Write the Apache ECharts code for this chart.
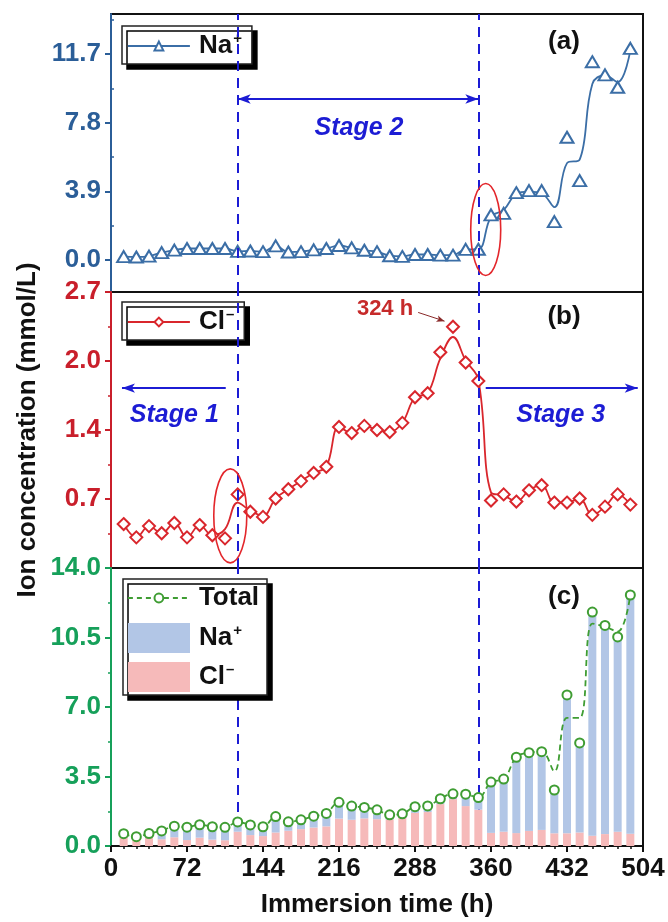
<!DOCTYPE html>
<html>
<head>
<meta charset="utf-8">
<script src="https://cdn.jsdelivr.net/npm/echarts@6/dist/echarts.min.js"></script>
<style>
  html, body { margin: 0; padding: 0; background: #fff; }
  #chart { width: 668px; height: 922px; }
</style>
</head>
<body>
<div id="chart"></div>
<script>
// Sampling times (h)
const hours = [12, 24, 36, 48, 60, 72, 84, 96, 108, 120, 132, 144, 156, 168, 180, 192, 204, 216, 228, 240,
  252, 264, 276, 288, 300, 312, 324, 336, 348, 360, 372, 384, 396, 408, 420, 432, 444, 456, 468, 480, 492];

// Na+ concentration (mmol/L): measured points and fitted curve
const naValues = [0.19, 0.17, 0.22, 0.42, 0.56, 0.65, 0.65, 0.65, 0.65, 0.49, 0.51, 0.47, 0.80, 0.45, 0.47, 0.57, 0.65, 0.82, 0.69, 0.55,
  0.47, 0.24, 0.20, 0.31, 0.31, 0.27, 0.27, 0.60, 0.61, 2.56, 2.65, 3.82, 3.94, 3.94, 2.18, 6.97, 4.51, 11.26, 10.51, 9.81, 12.02];
const naCurve = [0.19, 0.17, 0.22, 0.42, 0.56, 0.65, 0.65, 0.65, 0.65, 0.49, 0.51, 0.47, 0.80, 0.45, 0.47, 0.57, 0.65, 0.82, 0.69, 0.55,
  0.47, 0.24, 0.20, 0.31, 0.31, 0.27, 0.27, 0.60, 0.61, 2.46, 2.84, 3.75, 3.88, 3.79, 3.00, 5.50, 5.70, 10.00, 10.50, 10.10, 11.90];

// Cl- concentration (mmol/L): measured points and fitted curve
const clValues = [0.43, 0.30, 0.41, 0.34, 0.44, 0.30, 0.42, 0.32, 0.29, 0.72, 0.55, 0.50, 0.68, 0.77, 0.85, 0.93, 0.99, 1.38, 1.32, 1.39,
  1.35, 1.33, 1.42, 1.67, 1.71, 2.11, 2.36, 2.01, 1.83, 0.66, 0.72, 0.65, 0.76, 0.81, 0.64, 0.64, 0.68, 0.52, 0.60, 0.72, 0.62];
const clCurve = [0.43, 0.30, 0.41, 0.34, 0.44, 0.30, 0.42, 0.32, 0.38, 0.64, 0.56, 0.51, 0.68, 0.77, 0.85, 0.93, 0.99, 1.38, 1.32, 1.39,
  1.35, 1.33, 1.42, 1.67, 1.71, 2.05, 2.26, 2.03, 1.84, 0.74, 0.71, 0.65, 0.76, 0.81, 0.64, 0.64, 0.68, 0.52, 0.60, 0.72, 0.62];

// Total ion concentration (mmol/L): points and fitted curve
const totalValues = [0.62, 0.47, 0.63, 0.76, 1.00, 0.95, 1.07, 0.97, 0.94, 1.21, 1.06, 0.97, 1.48, 1.22, 1.32, 1.50, 1.64, 2.20, 2.01, 1.94,
  1.82, 1.57, 1.62, 1.98, 2.02, 2.38, 2.63, 2.61, 2.44, 3.22, 3.37, 4.47, 4.70, 4.75, 2.82, 7.61, 5.19, 11.78, 11.11, 10.53, 12.64];
const totalCurve = [0.62, 0.47, 0.63, 0.76, 1.00, 0.95, 1.07, 0.97, 0.94, 1.21, 1.06, 0.97, 1.48, 1.22, 1.32, 1.50, 1.64, 2.20, 2.01, 1.94,
  1.82, 1.57, 1.62, 1.98, 2.02, 2.38, 2.63, 2.61, 2.44, 3.22, 3.37, 4.47, 4.70, 4.75, 3.75, 6.45, 6.45, 11.20, 11.04, 10.80, 12.64];

// Axis ticks
const xTicks = { min: 0, max: 504, step: 72 };
const naTickLabels = [0, 3.9, 7.8, 11.7];
const naMinorTicks = [1.95, 5.85, 9.75, 13.65];
const stageBounds = [120, 348];

const FONT = '"Liberation Sans", Arial, Helvetica, sans-serif';
const NA = '#3b6ea6', NA_AXIS = '#2b5e98';
const CL = '#d9262c', CL_AXIS = '#c91f2b';
const TOT = '#3f9d33', TOT_AXIS = '#16a05a';
const STAGE = '#1c1cd4';
const NA_BAR = '#b2c6e6', CL_BAR = '#f6baba';

const pairs = (xs, ys) => xs.map((x, i) => [x, ys[i]]);
// value first, time second: lets the bar stack run along the concentration axis
const valueFirst = (xs, ys) => xs.map((x, i) => [ys[i], x]);
const bold = (size, color) => ({ fontFamily: FONT, fontSize: size, fontWeight: 'bold', color: color || '#111' });

const legendRich = {
  t: { fontFamily: FONT, fontSize: 26, fontWeight: 'bold', color: '#111', lineHeight: 30, verticalAlign: 'middle' },
  s: { fontFamily: FONT, fontSize: 15, fontWeight: 'bold', color: '#111', lineHeight: 30, verticalAlign: 'top', padding: [0, 0, 0, 1] }
};
const legendLabel = name => {
  if (name.indexOf('Na') === 0) return '{t|Na}{s|+}';
  if (name.indexOf('Cl') === 0) return '{t|Cl}{s|\u2013}';
  return '{t|' + name + '}';
};

const stageLines = stageBounds.map(v => ({ xAxis: v }));
const dashedStage = { color: STAGE, width: 2, type: [10, 7] };
const arrowSeg = (x0, x1, y, s0, s1) => [
  { coord: [x0, y], symbol: s0, lineStyle: { type: 'solid', width: 2, color: STAGE } },
  { coord: [x1, y], symbol: s1, lineStyle: { type: 'solid', width: 2, color: STAGE } }
];

const grids = [
  { left: 111, right: 25, top: 14, height: 278 },
  { left: 111, right: 25, top: 292, height: 276 },
  { left: 111, right: 25, top: 568, height: 278 }
].map(g => Object.assign(g, { show: true, borderColor: '#111', borderWidth: 2, backgroundColor: 'transparent' }));

const xAxes = [0, 1, 2].map(i => ({
  type: 'value', gridIndex: i, min: xTicks.min, max: xTicks.max, interval: xTicks.step,
  axisLine: { show: i === 2, onZero: false, lineStyle: { color: '#111', width: 2 } },
  axisTick: { show: i === 2, length: 6, lineStyle: { color: '#111', width: 2 } },
  minorTick: { show: i === 2, splitNumber: 6, length: 3, lineStyle: { color: '#111', width: 1.5 } },
  axisLabel: Object.assign({ show: i === 2, margin: 10 }, bold(26)),
  splitLine: { show: false },
  name: i === 2 ? 'Immersion time (h)' : '',
  nameLocation: 'middle', nameGap: 46,
  nameTextStyle: bold(26)
}));

const yAxes = [
  {
    type: 'value', gridIndex: 0, min: -1.82, max: 13.97,
    axisLine: { show: true, onZero: false, lineStyle: { color: NA_AXIS, width: 2 } },
    axisTick: { show: true, customValues: naTickLabels, length: 6, lineStyle: { color: NA_AXIS, width: 2 } },
    axisLabel: Object.assign({ customValues: naTickLabels, formatter: v => v.toFixed(1), margin: 10 }, bold(26, NA_AXIS)),
    splitLine: { show: false }
  },
  {
    type: 'value', gridIndex: 0, min: -1.82, max: 13.97,
    axisLine: { show: false },
    axisTick: { show: true, customValues: naMinorTicks, length: 3, lineStyle: { color: NA_AXIS, width: 1.5 } },
    axisLabel: { show: false },
    splitLine: { show: false }
  },
  {
    type: 'value', gridIndex: 1, min: 0, max: 2.7, interval: 0.675,
    axisLine: { show: true, onZero: false, lineStyle: { color: CL_AXIS, width: 2 } },
    axisTick: { show: true, length: 6, lineStyle: { color: CL_AXIS, width: 2 } },
    minorTick: { show: true, splitNumber: 2, length: 3, lineStyle: { color: CL_AXIS, width: 1.5 } },
    axisLabel: Object.assign({ formatter: v => v.toFixed(1), showMinLabel: false, margin: 10 }, bold(26, CL_AXIS)),
    splitLine: { show: false },
    name: 'Ion concentration (mmol/L)', nameLocation: 'middle', nameGap: 70,
    nameTextStyle: bold(26)
  },
  {
    type: 'value', gridIndex: 2, min: 0, max: 14, interval: 3.5,
    axisLine: { show: true, onZero: false, lineStyle: { color: TOT_AXIS, width: 2 } },
    axisTick: { show: true, length: 6, lineStyle: { color: TOT_AXIS, width: 2 } },
    minorTick: { show: true, splitNumber: 2, length: 3, lineStyle: { color: TOT_AXIS, width: 1.5 } },
    axisLabel: Object.assign({ formatter: v => v.toFixed(1), margin: 10 }, bold(26, TOT_AXIS)),
    splitLine: { show: false }
  }
];

const series = [
  // (a) Na+
  {
    name: 'Na+ fit', type: 'line', xAxisIndex: 0, yAxisIndex: 0, data: pairs(hours, naCurve),
    smooth: 0.4, showSymbol: false, silent: true, z: 3,
    lineStyle: { color: NA, width: 1.8 },
    markLine: {
      silent: true, symbol: ['none', 'none'], symbolSize: [7, 13], label: { show: false },
      lineStyle: dashedStage,
      data: stageLines.concat([arrowSeg(stageBounds[0], stageBounds[1], 9.14, 'arrow', 'arrow')])
    }
  },
  {
    name: 'Na+', type: 'line', xAxisIndex: 0, yAxisIndex: 0, data: pairs(hours, naValues),
    symbol: 'emptyTriangle', symbolSize: [13, 11], z: 4, silent: true,
    itemStyle: { color: NA, borderWidth: 1.5 },
    lineStyle: { opacity: 0 }
  },
  // (b) Cl-
  {
    name: 'Cl- fit', type: 'line', xAxisIndex: 1, yAxisIndex: 2, data: pairs(hours, clCurve),
    smooth: 0.4, showSymbol: false, silent: true, z: 3,
    lineStyle: { color: CL, width: 1.8 },
    markLine: {
      silent: true, symbol: ['none', 'none'], symbolSize: [7, 13], label: { show: false },
      lineStyle: dashedStage,
      data: stageLines.concat([
        arrowSeg(108.7, 10.4, 1.76, 'none', 'arrow'),
        arrowSeg(355, 499, 1.76, 'none', 'arrow'),
        [
          { coord: [291, 2.50], symbol: 'none', symbolSize: [5, 8], lineStyle: { type: 'solid', width: 1, color: '#8a2a2a' } },
          { coord: [316, 2.415], symbol: 'arrow', symbolSize: [5, 8], lineStyle: { type: 'solid', width: 1, color: '#8a2a2a' } }
        ]
      ])
    }
  },
  {
    name: 'Cl-', type: 'line', xAxisIndex: 1, yAxisIndex: 2, data: pairs(hours, clValues),
    symbol: 'emptyDiamond', symbolSize: [12, 12], z: 4, silent: true,
    itemStyle: { color: CL, borderWidth: 1.5 },
    lineStyle: { opacity: 0 }
  },
  // (c) stacked ions (Cl- at the bottom, Na+ on top) and total
  {
    name: 'Cl- bar', type: 'bar', xAxisIndex: 2, yAxisIndex: 3, stack: 'ions',
    data: valueFirst(hours, clValues), encode: { x: 1, y: 0 },
    barWidth: 8, silent: true, itemStyle: { color: CL_BAR },
    markLine: {
      silent: true, z: 1, symbol: ['none', 'none'], label: { show: false },
      lineStyle: dashedStage, data: stageLines
    }
  },
  {
    name: 'Na+ bar', type: 'bar', xAxisIndex: 2, yAxisIndex: 3, stack: 'ions',
    data: valueFirst(hours, naValues), encode: { x: 1, y: 0 },
    barWidth: 8, silent: true, itemStyle: { color: NA_BAR }
  },
  {
    name: 'Total fit', type: 'line', xAxisIndex: 2, yAxisIndex: 3, data: pairs(hours, totalCurve),
    smooth: 0.4, showSymbol: false, silent: true, z: 3,
    lineStyle: { color: TOT, width: 1.8, type: [6, 4] }
  },
  {
    name: 'Total', type: 'line', xAxisIndex: 2, yAxisIndex: 3, data: pairs(hours, totalValues),
    symbol: 'emptyCircle', symbolSize: 9, z: 4, silent: true,
    itemStyle: { color: TOT, borderWidth: 2 },
    lineStyle: { opacity: 0 }
  }
];

const boxedLegend = {
  backgroundColor: '#fff', borderColor: '#222', borderWidth: 1.5,
  shadowColor: '#000', shadowOffsetX: 5, shadowOffsetY: 5, shadowBlur: 0
};

const legends = [
  Object.assign({
    data: ['Na+'], left: 122, top: 26, itemWidth: 62, itemHeight: 11, padding: [5, 10, 5, 5],
    formatter: legendLabel, selectedMode: false,
    textStyle: { padding: [0, 0, 0, 4], rich: legendRich },
    lineStyle: { opacity: 1, color: NA, width: 1.8 }
  }, boxedLegend),
  Object.assign({
    data: ['Cl-'], left: 122, top: 302, itemWidth: 62, itemHeight: 11, padding: [5, 10, 5, 5],
    formatter: legendLabel, selectedMode: false,
    textStyle: { padding: [0, 0, 0, 4], rich: legendRich },
    lineStyle: { opacity: 1, color: CL, width: 1.8 }
  }, boxedLegend),
  {
    data: ['Total'], left: 127, top: 585, itemWidth: 62, itemHeight: 11, padding: 0,
    formatter: legendLabel, selectedMode: false,
    textStyle: { padding: [0, 0, 0, 4], rich: legendRich },
    lineStyle: { opacity: 1, color: TOT, width: 1.8, type: [5, 4] }
  },
  {
    data: [{ name: 'Na+ bar', icon: 'rect' }, { name: 'Cl- bar', icon: 'rect' }],
    left: 128, top: 623, orient: 'vertical', itemWidth: 62, itemHeight: 30, itemGap: 9, padding: 0,
    formatter: legendLabel, selectedMode: false,
    textStyle: { padding: [0, 0, 0, 4], rich: legendRich }
  }
];

const chart = echarts.init(document.getElementById('chart'), null, { renderer: 'canvas' });
chart.setOption({
  animation: false,
  backgroundColor: '#fff',
  grid: grids,
  xAxis: xAxes,
  yAxis: yAxes,
  legend: legends,
  series: series
});

// Annotations placed in data coordinates
const toPx = (xi, yi, pt) => chart.convertToPixel({ xAxisIndex: xi, yAxisIndex: yi }, pt);
const stageText = (pos, text) => ({
  type: 'text', z: 6, silent: true,
  style: {
    x: pos[0], y: pos[1], text: text, align: 'center', verticalAlign: 'middle',
    fill: STAGE, font: 'italic bold 25px ' + FONT
  }
});
const ellipse = (pos, rx, ry) => ({
  type: 'ellipse', z: 6, silent: true,
  shape: { cx: pos[0], cy: pos[1], rx: rx, ry: ry },
  style: { fill: 'none', stroke: '#e3262b', lineWidth: 1.6 }
});
const panelTag = (x, y, text) => ({
  type: 'text', z: 6, silent: true,
  style: { x: x, y: y, text: text, align: 'center', verticalAlign: 'middle', fill: '#111', font: 'bold 26px ' + FONT }
});

const p324 = toPx(1, 2, [259.6, 2.53]);
chart.setOption({
  graphic: [
    // frame behind the panel (c) legend
    {
      type: 'rect', z: 3, silent: true,
      shape: { x: 123, y: 579, width: 144, height: 116 },
      style: { fill: '#fff', stroke: '#222', lineWidth: 1.5, shadowColor: '#000', shadowOffsetX: 5, shadowOffsetY: 5, shadowBlur: 0 }
    },
    stageText(toPx(0, 0, [235, 7.5]), 'Stage 2'),
    stageText(toPx(1, 2, [60, 1.50]), 'Stage 1'),
    stageText(toPx(1, 2, [426, 1.50]), 'Stage 3'),
    ellipse(toPx(0, 0, [355, 1.73]), 15, 46),
    ellipse(toPx(1, 2, [113, 0.51]), 16.5, 47),
    {
      type: 'text', z: 6, silent: true,
      style: { x: p324[0], y: p324[1], text: '324 h', align: 'center', verticalAlign: 'middle', fill: '#c62a2a', font: 'bold 22px ' + FONT }
    },
    panelTag(564, 42, '(a)'),
    panelTag(564, 317, '(b)'),
    panelTag(564, 597, '(c)')
  ]
});
</script>
</body>
</html>
